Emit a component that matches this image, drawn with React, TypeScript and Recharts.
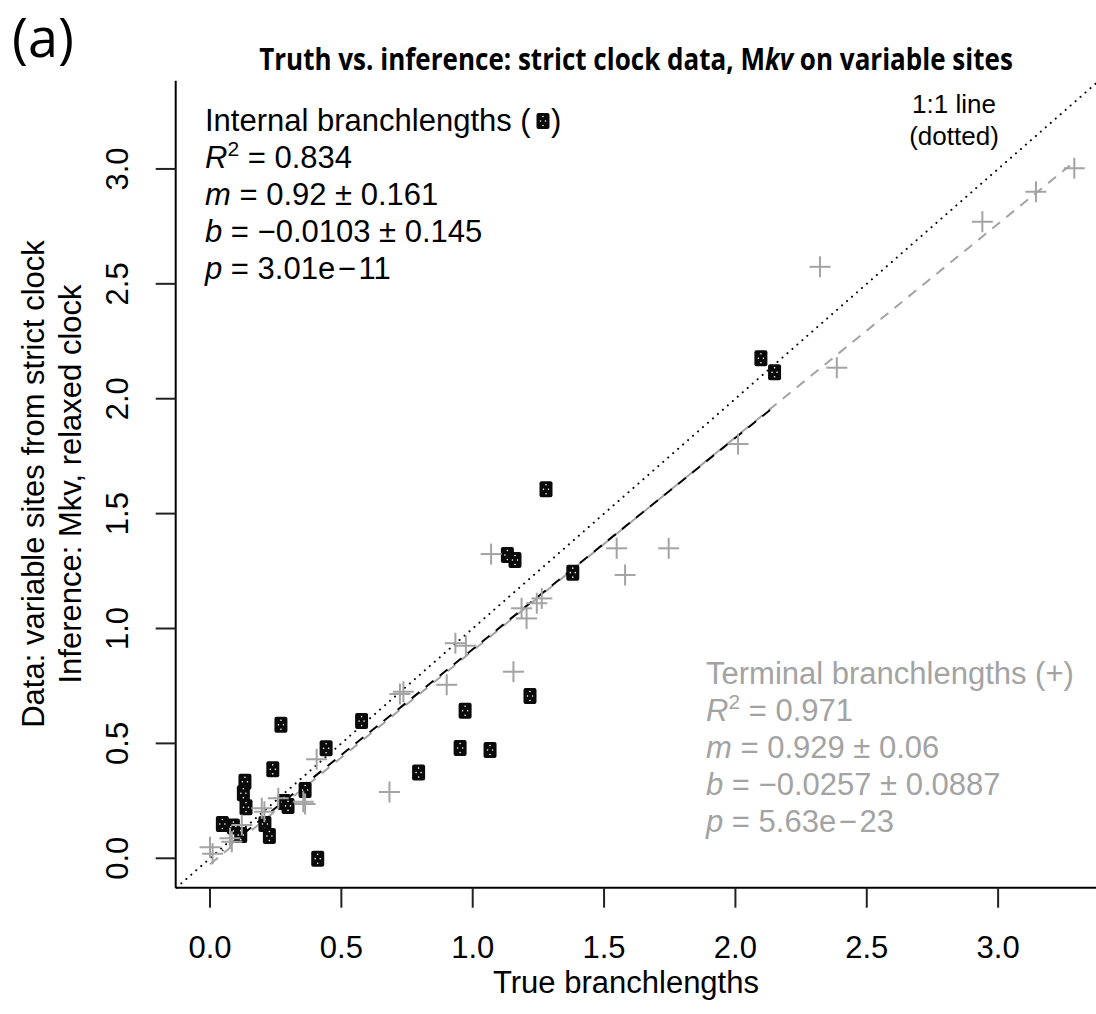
import React from 'react';
import { ScatterChart, Scatter, XAxis, YAxis, ReferenceLine } from 'recharts';

// Axis ranges and ticks
const X_DOMAIN: [number, number] = [-0.1306, 3.384];
const Y_DOMAIN: [number, number] = [-0.128, 3.384];
const X_TICKS = [0, 0.5, 1, 1.5, 2, 2.5, 3];
const Y_TICKS = [0, 0.5, 1, 1.5, 2, 2.5, 3];

// Internal branchlengths (black squares)
const internalX = [2.097, 2.149, 1.279, 1.132, 1.161, 1.381, 1.218, 0.971, 0.952, 1.066, 0.577, 0.794, 0.442, 0.270, 0.239, 0.362, 0.282, 0.297, 0.133, 0.127, 0.137, 0.047, 0.089, 0.117, 0.209, 0.226, 0.410];
const internalY = [2.176, 2.115, 1.606, 1.320, 1.298, 1.243, 0.706, 0.642, 0.480, 0.471, 0.597, 0.373, 0.479, 0.581, 0.387, 0.297, 0.245, 0.228, 0.333, 0.283, 0.222, 0.149, 0.138, 0.101, 0.149, 0.097, -0.002];

// Terminal branchlengths (grey crosses)
const terminalX = [0.000, 0.010, 0.083, 0.076, 0.121, 0.207, 0.197, 0.260, 0.362, 0.355, 0.406, 0.683, 0.723, 0.736, 0.901, 0.934, 0.974, 1.155, 1.070, 1.186, 1.205, 1.244, 1.263, 1.548, 1.580, 1.746, 2.010, 2.322, 2.386, 2.940, 3.144, 3.290];
const terminalY = [0.048, 0.020, 0.072, 0.087, 0.145, 0.203, 0.218, 0.261, 0.236, 0.246, 0.431, 0.288, 0.715, 0.725, 0.755, 0.936, 0.925, 0.812, 1.324, 1.088, 1.044, 1.110, 1.131, 1.349, 1.233, 1.349, 1.803, 2.574, 2.135, 2.770, 2.901, 3.003];

// Regression fits (from the legend text)
const INTERNAL_FIT = { slope: 0.92, intercept: -0.0103 };
const TERMINAL_FIT = { slope: 0.929, intercept: -0.0257 };

const internalData = internalX.map((x, i) => ({ x, y: internalY[i] }));
const terminalData = terminalX.map((x, i) => ({ x, y: terminalY[i] }));

const fitSegment = (xs: number[], fit: { slope: number; intercept: number }) => {
  const lo = Math.min(...xs);
  const hi = Math.max(...xs);
  return [
    { x: lo, y: fit.intercept + fit.slope * lo },
    { x: hi, y: fit.intercept + fit.slope * hi },
  ];
};

const FONT = '"Liberation Sans", Arial, Helvetica, sans-serif';
const GREY = '#a3a3a3';

const SquareMarker = (props: any) => {
  const { cx, cy } = props;
  if (cx == null || cy == null) return null;
  return (
    <g>
      <rect x={cx - 6.5} y={cy - 8} width={13} height={16} rx={2} fill="#0a0a0a" />
      <circle cx={cx} cy={cy - 4.5} r={0.8} fill="#fff" />
      <circle cx={cx - 2.5} cy={cy} r={0.8} fill="#fff" />
      <circle cx={cx + 2.5} cy={cy} r={0.8} fill="#fff" />
      <circle cx={cx} cy={cy + 4.5} r={0.8} fill="#fff" />
    </g>
  );
};

const PlusMarker = (props: any) => {
  const { cx, cy } = props;
  if (cx == null || cy == null) return null;
  return (
    <g stroke={GREY} strokeWidth={2}>
      <line x1={cx - 10.5} y1={cy} x2={cx + 10.5} y2={cy} />
      <line x1={cx} y1={cy - 10.5} x2={cx} y2={cy + 10.5} />
    </g>
  );
};

const XTick = (props: any) => {
  const { x, y, payload } = props;
  return (
    <text x={x} y={y + 48} textAnchor="middle" fontFamily={FONT} fontSize={31} fill="#000">
      {Number(payload.value).toFixed(1)}
    </text>
  );
};

const YTick = (props: any) => {
  const { x, y, payload } = props;
  const bx = x - 26;
  return (
    <text x={bx} y={y} transform={`rotate(-90, ${bx}, ${y})`} textAnchor="middle" fontFamily={FONT} fontSize={31} fill="#000">
      {Number(payload.value).toFixed(1)}
    </text>
  );
};

const StatLines = ({ x, y0, color, r2, m, b, p }: any) => {
  const step = 37;
  return (
    <g fontFamily={FONT} fontSize={31} fill={color}>
      <text x={x} y={y0 + step}>
        <tspan fontStyle="italic">R</tspan>
        <tspan dy={-12} fontSize={21}>2</tspan>
        <tspan dy={12}>{` = ${r2}`}</tspan>
      </text>
      <text x={x} y={y0 + step * 2}>
        <tspan fontStyle="italic">m</tspan>
        <tspan>{` = ${m}`}</tspan>
      </text>
      <text x={x} y={y0 + step * 3}>
        <tspan fontStyle="italic">b</tspan>
        <tspan>{` = ${b}`}</tspan>
      </text>
      <text x={x} y={y0 + step * 4}>
        <tspan fontStyle="italic">p</tspan>
        <tspan>{` = ${p}`}</tspan>
      </text>
    </g>
  );
};

const Overlay = () => (
  <svg width={1096} height={1014} style={{ position: 'absolute', left: 0, top: 0, pointerEvents: 'none' }}>
    <text x={12} y={57} fontFamily='"Open Sans", sans-serif' fontSize={54} fill="#000">(a)</text>
    <g transform="translate(636, 70) scale(0.84, 1)">
      <text x={0} y={0} textAnchor="middle" fontFamily='"Open Sans", sans-serif' fontWeight="bold" fontSize={31} fill="#000">
        Truth vs. inference: strict clock data, M<tspan fontStyle="italic">kv</tspan> on variable sites
      </text>
    </g>

    {/* Internal legend */}
    <text x={205} y={131} fontFamily={FONT} fontSize={31} fill="#000">Internal branchlengths (</text>
    <SquareMarker cx={543} cy={121} />
    <text x={551} y={131} fontFamily={FONT} fontSize={31} fill="#000">)</text>
    <StatLines x={205} y0={131} color="#000" r2="0.834" m="0.92 ± 0.161" b="−0.0103 ± 0.145" p={'3.01e\u200A−\u200A11'} />

    {/* 1:1 line note */}
    <text x={954} y={113} textAnchor="middle" fontFamily={FONT} fontSize={26} fill="#000">1:1 line</text>
    <text x={954} y={145} textAnchor="middle" fontFamily={FONT} fontSize={26} fill="#000">(dotted)</text>

    {/* Terminal legend */}
    <text x={706} y={684} fontFamily={FONT} fontSize={31} fill={GREY}>Terminal branchlengths (+)</text>
    <StatLines x={706} y0={684} color={GREY} r2="0.971" m="0.929 ± 0.06" b="−0.0257 ± 0.0887" p={'5.63e\u200A−\u200A23'} />

    {/* Axis titles */}
    <text x={626} y={993} textAnchor="middle" fontFamily={FONT} fontSize={31} fill="#000">True branchlengths</text>
    <text x={44} y={484} transform="rotate(-90, 44, 484)" textAnchor="middle" fontFamily={FONT} fontSize={31} fill="#000">Data: variable sites from strict clock</text>
    <text x={81} y={484} transform="rotate(-90, 81, 484)" textAnchor="middle" fontFamily={FONT} fontSize={31} fill="#000">Inference: Mkv, relaxed clock</text>
  </svg>
);

export default function App() {
  const identity = [
    { x: Y_DOMAIN[0], y: Y_DOMAIN[0] },
    { x: Y_DOMAIN[1], y: Y_DOMAIN[1] },
  ];
  return (
    <div style={{ position: 'absolute', left: 0, top: 0, width: 1096, height: 1014, overflow: 'hidden', background: '#fff' }}>
      <ScatterChart width={1100} height={1014} margin={{ top: 80.7, right: 1, left: 0, bottom: 0 }}>
        <XAxis
          type="number"
          dataKey="x"
          domain={X_DOMAIN}
          ticks={X_TICKS}
          interval={0}
          allowDataOverflow
          height={126.3}
          tickSize={20}
          tickLine={{ stroke: '#222', strokeWidth: 2 }}
          axisLine={{ stroke: '#000', strokeWidth: 2 }}
          tick={XTick}
        />
        <XAxis xAxisId="top" orientation="top" type="number" domain={X_DOMAIN} allowDataOverflow height={0} tick={false} tickLine={false} axisLine={{ stroke: '#000', strokeWidth: 2 }} />
        <YAxis
          type="number"
          dataKey="y"
          domain={Y_DOMAIN}
          ticks={Y_TICKS}
          interval={0}
          allowDataOverflow
          width={175.7}
          tickSize={20}
          tickLine={{ stroke: '#222', strokeWidth: 2 }}
          axisLine={{ stroke: '#000', strokeWidth: 2 }}
          tick={YTick}
        />
        <YAxis yAxisId="right" orientation="right" type="number" domain={Y_DOMAIN} allowDataOverflow width={0} tick={false} tickLine={false} axisLine={{ stroke: '#000', strokeWidth: 2 }} />
        <Scatter data={internalData} shape={SquareMarker} isAnimationActive={false} />
        <Scatter data={terminalData} shape={PlusMarker} isAnimationActive={false} />
        <ReferenceLine segment={identity} stroke="#000" strokeWidth={2} strokeDasharray="0.1 6.5" strokeLinecap="round" ifOverflow="visible" />
        <ReferenceLine segment={fitSegment(terminalX, TERMINAL_FIT)} stroke={GREY} strokeWidth={2} strokeDasharray="10 8" ifOverflow="visible" />
        <ReferenceLine segment={fitSegment(internalX, INTERNAL_FIT)} stroke="#000" strokeWidth={2} strokeDasharray="10 8" strokeDashoffset={9} ifOverflow="visible" />
      </ScatterChart>
      <Overlay />
    </div>
  );
}
